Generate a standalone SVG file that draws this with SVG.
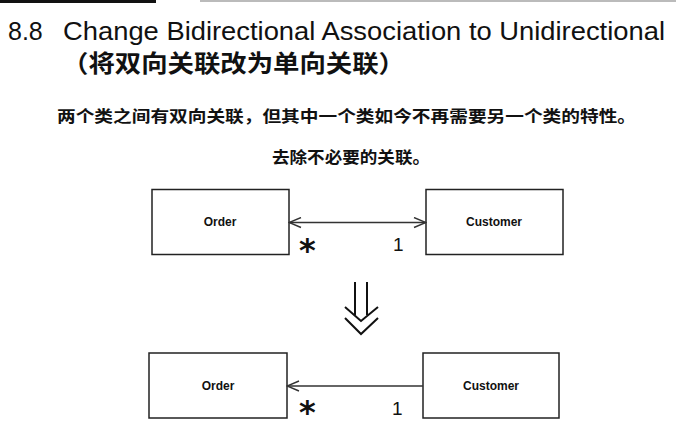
<svg xmlns="http://www.w3.org/2000/svg" width="676" height="434" viewBox="0 0 676 434">
<style>
.box{fill:#fff;stroke:#222;stroke-width:1.5}
.lbl{font-family:"Liberation Sans",Arial,sans-serif;font-weight:bold;font-size:12px;fill:#111;text-anchor:middle}
.mult{font-family:"Liberation Sans",Arial,sans-serif;font-size:19px;fill:#111}
.star{font-family:"DejaVu Sans",sans-serif;font-size:32px;font-weight:bold;fill:#111}
.conn{fill:none;stroke:#333;stroke-width:1.5}
.cjk{font-family:"Liberation Sans","Noto Sans CJK SC",sans-serif;fill:#111}
</style>
<defs>
<marker id="open" viewBox="0 0 14 12" refX="13" refY="6" markerWidth="14" markerHeight="12" markerUnits="userSpaceOnUse" orient="auto-start-reverse">
<path d="M1,1 L13,6 L1,11" fill="none" stroke="#333" stroke-width="1.4"/>
</marker>
</defs>
<rect x="0" y="0" width="156" height="3" fill="#111"/>
<rect x="200" y="0" width="476" height="2" fill="#bbb"/>
<text x="8" y="40" font-family="'Liberation Sans',Arial,sans-serif" font-size="25" fill="#111">8.8</text>
<text x="63" y="40" font-family="'Liberation Sans',Arial,sans-serif" font-size="25" fill="#111" textLength="602" lengthAdjust="spacingAndGlyphs">Change Bidirectional Association to Unidirectional</text>
<text class="cjk" x="62" y="72" font-size="24" font-weight="bold" textLength="343" lengthAdjust="spacingAndGlyphs">（将双向关联改为单向关联）</text>
<text class="cjk" x="57" y="122" font-size="16" font-weight="bold" textLength="579" lengthAdjust="spacingAndGlyphs">两个类之间有双向关联，但其中一个类如今不再需要另一个类的特性。</text>
<text class="cjk" x="272" y="163" font-size="16" font-weight="bold" textLength="158" lengthAdjust="spacingAndGlyphs">去除不必要的关联。</text>
<g id="order1"><rect class="box" x="152" y="189.5" width="137" height="65"/><text class="lbl" x="220" y="226">Order</text></g>
<g id="customer1"><rect class="box" x="426" y="189.5" width="137" height="65"/><text class="lbl" x="494" y="226">Customer</text></g>
<g id="order2"><rect class="box" x="149" y="353" width="138" height="65"/><text class="lbl" x="218" y="390">Order</text></g>
<g id="customer2"><rect class="box" x="423" y="353" width="136" height="65"/><text class="lbl" x="491" y="390">Customer</text></g>
<g id="connectors">
<line class="conn" x1="289" y1="222.5" x2="426" y2="222.5" marker-start="url(#open)" marker-end="url(#open)"/>
<line class="conn" x1="423" y1="386" x2="287" y2="386" marker-end="url(#open)"/>
<g fill="none" stroke="#111" stroke-width="2">
<line x1="355" y1="282" x2="355" y2="315"/>
<line x1="367" y1="282" x2="367" y2="315"/>
<path d="M345,307 L361,321 L378,307"/>
<path d="M345,318 L361,334 L378,318"/>
</g>
</g>
<text class="star" x="299" y="261">*</text>
<text class="mult" x="393" y="251">1</text>
<text class="star" x="299" y="423">*</text>
<text class="mult" x="392" y="415">1</text>
</svg>
